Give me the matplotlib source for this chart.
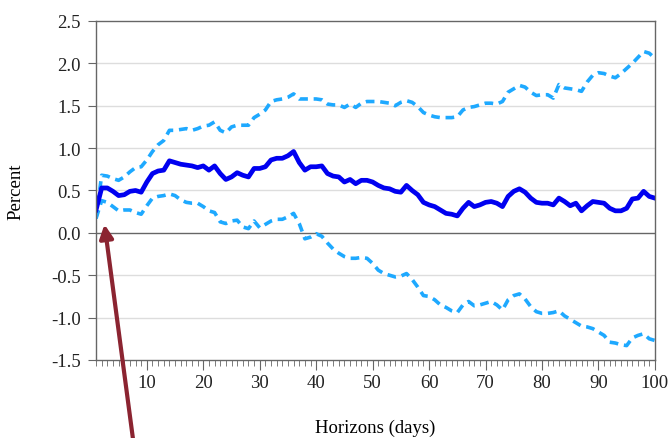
import matplotlib.pyplot as plt
from matplotlib.ticker import MultipleLocator

horizons = list(range(1, 101))

response = [
    0.27, 0.53, 0.53, 0.49, 0.44, 0.45, 0.49, 0.50, 0.48, 0.60,
    0.70, 0.73, 0.74, 0.85, 0.83, 0.81, 0.80, 0.79, 0.77, 0.79,
    0.74, 0.79, 0.70, 0.63, 0.66, 0.71, 0.68, 0.66, 0.76, 0.76,
    0.78, 0.86, 0.88, 0.88, 0.91, 0.96, 0.83, 0.74, 0.78, 0.78,
    0.79, 0.70, 0.67, 0.66, 0.60, 0.63, 0.58, 0.62, 0.62, 0.60,
    0.56, 0.53, 0.52, 0.49, 0.48, 0.56, 0.50, 0.45, 0.36, 0.33,
    0.31, 0.27, 0.23, 0.22, 0.20, 0.29, 0.36, 0.31, 0.33, 0.36,
    0.37, 0.35, 0.31, 0.43, 0.49, 0.52, 0.48, 0.41, 0.36, 0.35,
    0.35, 0.33, 0.41, 0.37, 0.32, 0.35, 0.26, 0.32, 0.37, 0.36,
    0.35, 0.29, 0.26, 0.26, 0.29, 0.40, 0.41, 0.49, 0.43, 0.41,
]

upper = [
    0.17, 0.68, 0.67, 0.64, 0.62, 0.66, 0.72, 0.77, 0.78, 0.86,
    0.96, 1.04, 1.09, 1.21, 1.21, 1.22, 1.23, 1.21, 1.23, 1.26,
    1.27, 1.31, 1.21, 1.18, 1.25, 1.27, 1.27, 1.27, 1.36, 1.40,
    1.45, 1.55, 1.57, 1.58, 1.60, 1.64, 1.58, 1.58, 1.58, 1.58,
    1.57, 1.52, 1.51, 1.51, 1.48, 1.52, 1.48, 1.53, 1.55, 1.55,
    1.55, 1.54, 1.53, 1.50, 1.54, 1.56, 1.54, 1.49, 1.42, 1.39,
    1.37, 1.36, 1.36, 1.36, 1.37, 1.45, 1.48, 1.49, 1.51, 1.53,
    1.53, 1.52, 1.55, 1.66, 1.70, 1.74, 1.72, 1.66, 1.62, 1.63,
    1.63, 1.59, 1.75, 1.71, 1.70, 1.69, 1.67, 1.78, 1.86, 1.89,
    1.88, 1.85, 1.83, 1.88, 1.94, 2.00, 2.07, 2.14, 2.12, 2.06,
]

lower = [
    0.17, 0.38, 0.36, 0.31, 0.26, 0.27, 0.27, 0.24, 0.22, 0.32,
    0.41, 0.43, 0.44, 0.46, 0.44, 0.39, 0.36, 0.35, 0.35, 0.31,
    0.26, 0.24, 0.13, 0.11, 0.14, 0.15, 0.07, 0.05, 0.14, 0.06,
    0.10, 0.14, 0.16, 0.16, 0.19, 0.23, 0.11, -0.07, -0.05, -0.01,
    -0.04, -0.12, -0.19, -0.24, -0.28, -0.30, -0.30, -0.29, -0.30, -0.36,
    -0.44, -0.48, -0.50, -0.52, -0.51, -0.48, -0.55, -0.64, -0.74, -0.75,
    -0.79, -0.85, -0.88, -0.92, -0.94, -0.85, -0.81, -0.86, -0.85, -0.83,
    -0.81, -0.85, -0.91, -0.79, -0.74, -0.72, -0.78, -0.87, -0.93, -0.95,
    -0.95, -0.94, -0.92, -0.98, -1.02, -1.06, -1.10, -1.11, -1.13, -1.17,
    -1.21, -1.29, -1.30, -1.32, -1.33, -1.24, -1.21, -1.19, -1.25, -1.27,
]

plt.rcParams['font.family'] = ['Liberation Serif', 'DejaVu Serif']

fig = plt.figure(figsize=(6.71, 4.39), dpi=100)
ax = fig.add_axes([0.1431, 0.1777, 0.8329, 0.7722])

band_color = '#1ea9ff'
ax.plot(horizons, upper, color=band_color, lw=2.6, linestyle=(0, (2.4, 1.6)))
ax.plot(horizons, lower, color=band_color, lw=2.6, linestyle=(0, (2.4, 1.6)))
ax.plot(horizons, response, color='#0000f0', lw=3.4, solid_joinstyle='round')

ax.set_xlim(1, 100)
ax.set_ylim(-1.5, 2.5)
ax.xaxis.set_minor_locator(MultipleLocator(1))
ax.yaxis.set_major_locator(MultipleLocator(0.5))
ax.set_xticks(range(10, 101, 10))
ax.set_yticklabels([f'{v:.1f}' for v in ax.get_yticks()])

for y in [-1.0, -0.5, 0.5, 1.0, 1.5, 2.0]:
    ax.axhline(y, color='#dddddd', lw=1, zorder=0)
ax.axhline(0, color='#666666', lw=1, zorder=0.5)

for side in ['left', 'bottom', 'top', 'right']:
    ax.spines[side].set_color('#666666')
    ax.spines[side].set_linewidth(1)

ax.tick_params(axis='both', which='major', direction='out', colors='#666666',
               labelcolor='#222222', labelsize=13.5)
ax.tick_params(axis='y', which='major', length=6, pad=5)
ax.tick_params(axis='x', which='major', length=7, pad=3)
ax.tick_params(axis='x', which='minor', length=4, color='#666666')

ax.set_ylabel('Percent', fontsize=13.5, labelpad=19)
ax.set_xlabel('Horizons (days)', fontsize=13.5, labelpad=20)

ax.annotate('', xy=(2.5, 0.1), xycoords='data',
            xytext=(0.198, 0.0), textcoords='figure fraction',
            annotation_clip=False,
            arrowprops=dict(arrowstyle='-|>', color='#8b2431', lw=3,
                            mutation_scale=20, shrinkA=0, shrinkB=0))

fig.savefig('out.png', dpi=100)
